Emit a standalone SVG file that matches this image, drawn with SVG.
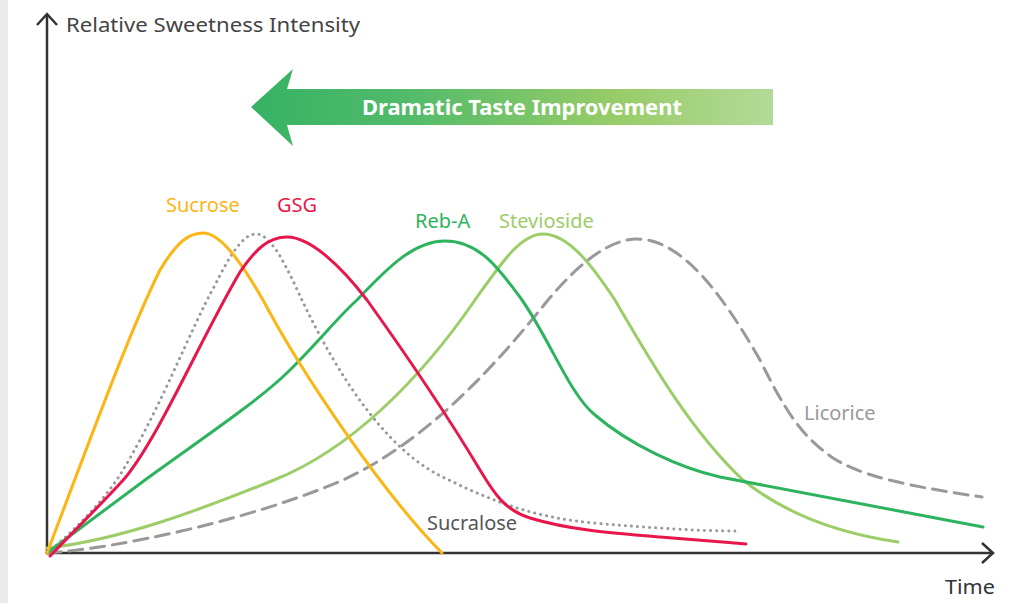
<svg xmlns="http://www.w3.org/2000/svg" width="1035" height="603" viewBox="0 0 1035 603">
<style>
.lbl{font-family:"Noto Sans","Open Sans",sans-serif;font-size:20px}
.curve{fill:none;stroke-width:3;stroke-linecap:round;stroke-linejoin:round}
.axis{fill:none;stroke:#333;stroke-width:2.5}
</style>
<defs>
<linearGradient id="g" x1="251" y1="0" x2="773" y2="0" gradientUnits="userSpaceOnUse">
<stop offset="0" stop-color="#36b264"/>
<stop offset="0.3" stop-color="#52bb6a"/>
<stop offset="0.7" stop-color="#98cc68"/>
<stop offset="1" stop-color="#b3da98"/>
</linearGradient>
</defs>
<rect x="0" y="0" width="1035" height="603" fill="#fff"/>
<rect x="0" y="0" width="8" height="603" fill="#ebebed"/>
<g id="axes">
<path class="axis" d="M47,553 V14 M37,25 L47,14 L57,25"/>
<path class="axis" d="M47,553 H993 M982,543 L993,553 L982,563"/>
<text class="lbl" x="66" y="32" fill="#444" font-size="23" textLength="294" lengthAdjust="spacingAndGlyphs">Relative Sweetness Intensity</text>
<text class="lbl" x="945" y="594" fill="#333" font-size="22" textLength="50" lengthAdjust="spacingAndGlyphs">Time</text>
</g>
<g id="banner">
<polygon points="251,107 293,69 287,89 773,89 773,125 287,125 293,146" fill="url(#g)"/>
<text x="522" y="115" text-anchor="middle" fill="#fff" font-family="Noto Sans, sans-serif" font-weight="bold" font-size="22" textLength="320" lengthAdjust="spacingAndGlyphs">Dramatic Taste Improvement</text>
</g>
<g id="connectors">
<path id="licorice" class="curve" stroke="#999" stroke-dasharray="14 8" stroke-linecap="butt" d="M47,553 C120,548 250,520 343,480 C430,440 500,360 548,300 C580,262 610,239 637,239 C680,239 720,290 760,360 C785,410 800,435 833,458 C860,475 900,485 982,497"/>
<path id="sucralose" class="curve" stroke="#999" stroke-dasharray="0.1 6" d="M47,553 C75,530 100,505 120,475 C160,410 190,330 215,285 C230,255 243,234 256,234 C272,234 288,270 302,300 C340,380 390,455 449,480 C500,505 540,518 594,523 C650,528 700,531 736,531"/>
<path id="stevioside" class="curve" stroke="#9ccd68" d="M47,548 C120,540 200,510 274,480 C350,450 420,380 475,300 C500,265 520,234 543,234 C570,234 595,270 615,300 C650,360 690,430 743,480 C780,510 830,532 898,542"/>
<path id="rebA" class="curve" stroke="#2db35d" d="M47,553 L145,480 C200,440 260,400 290,370 C320,340 340,315 357,300 C390,265 415,241 445,241 C480,241 500,270 522,300 C550,340 570,395 595,415 C630,445 680,468 720,477 L983,527"/>
<path id="sucrose" class="curve" stroke="#fbb616" d="M47,553 C90,440 130,330 160,270 C178,240 190,233 203,233 C220,233 240,260 263,300 C300,370 380,490 442,553"/>
<path id="gsg" class="curve" stroke="#e8174b" d="M50,556 C85,520 110,495 125,478 C160,435 200,340 240,272 C255,250 268,237 287,237 C310,237 340,265 367,300 C410,360 450,420 480,470 C495,495 505,510 530,518 C570,530 610,533 660,537 C700,540 720,542 746,544"/>
</g>
<g id="labels">
<text class="lbl" x="166" y="212" fill="#fbb616">Sucrose</text>
<text class="lbl" x="277" y="212" fill="#e8174b">GSG</text>
<text class="lbl" x="415" y="228" fill="#2db35d">Reb-A</text>
<text class="lbl" x="499" y="228" fill="#9ccd68">Stevioside</text>
<text class="lbl" x="804" y="420" fill="#999">Licorice</text>
<text class="lbl" x="427" y="530" fill="#555">Sucralose</text>
</g>
</svg>
